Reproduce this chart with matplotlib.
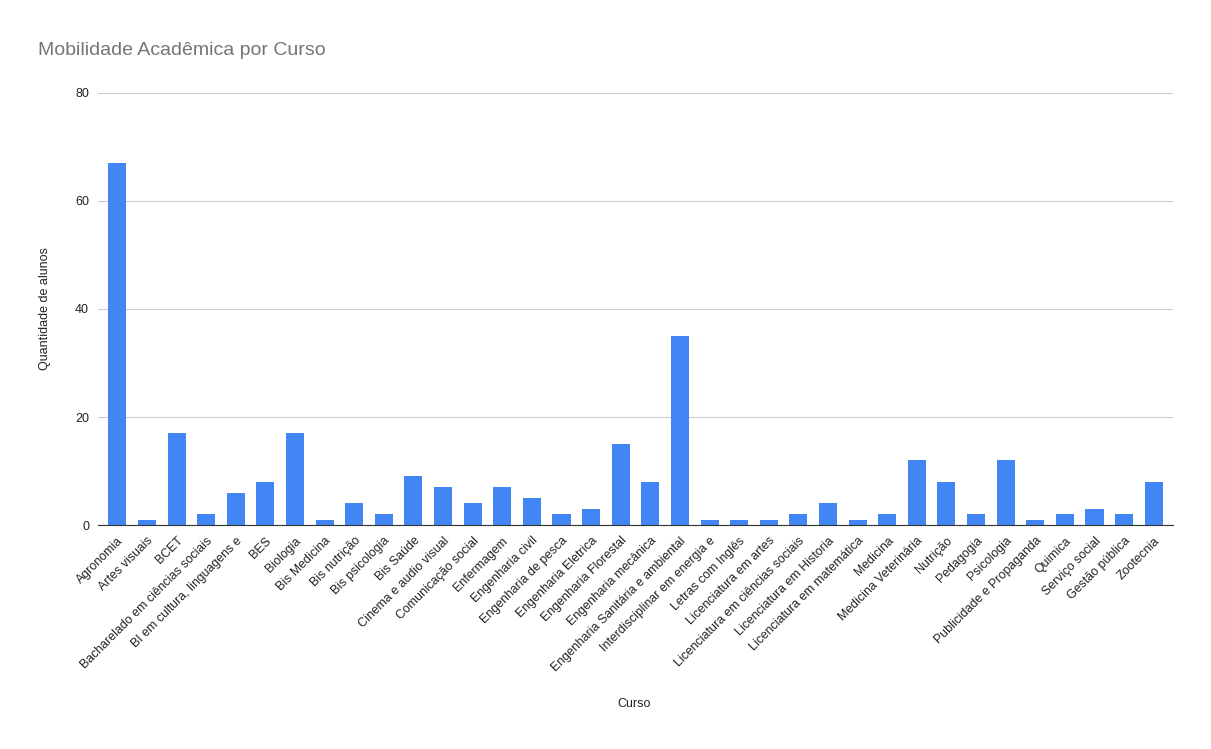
import matplotlib
matplotlib.use("Agg")
import matplotlib.pyplot as plt

cursos = ["Agronomia", "Artes visuais", "BCET", "Bacharelado em ciências sociais",
          "BI em cultura, linguagens e", "BES", "Biologia", "Bis Medicina", "Bis nutrição",
          "Bis psicologia", "Bis Saúde", "Cinema e audio visual", "Comunicação social",
          "Enfermagem", "Engenharia civil", "Engenharia de pesca", "Engenharia Eletrica",
          "Engenharia Florestal", "Engenharia mecânica", "Engenharia Sanitária e ambiental",
          "Interdisciplinar em energia e", "Letras com Inglês", "Licenciatura em artes",
          "Licenciatura em ciências sociais", "Licenciatura em Historia",
          "Licenciatura em matemática", "Medicina", "Medicina Veterinária", "Nutrição",
          "Pedagogia", "Psicologia", "Publicidade e Propaganda", "Quimica", "Serviço social",
          "Gestão pública", "Zootecnia"]
alunos = [67, 1, 17, 2, 6, 8, 17, 1, 4, 2, 9, 7, 4, 7, 5, 2, 3, 15, 8, 35,
          1, 1, 1, 2, 4, 1, 2, 12, 8, 2, 12, 1, 2, 3, 2, 8]
yticks = [0, 20, 40, 60, 80]

plt.rcParams['font.family'] = ['Liberation Sans', 'DejaVu Sans']

fig = plt.figure(figsize=(12.11, 7.49), dpi=100)
ax = fig.add_axes([0.081, 0.299, 0.8876, 0.577])
x = range(len(cursos))
ax.bar(x, alunos, width=0.61, color="#4285F4", zorder=3)
ax.set_xlim(-0.65, len(cursos) - 0.35)
ax.set_ylim(0, 80)
ax.set_yticks(yticks)
ax.set_yticklabels([str(v) for v in yticks], fontsize=9, color="#222222")
ax.set_xticks(list(x))
ax.set_xticklabels(cursos, rotation=45, ha="right", rotation_mode="anchor",
                   fontsize=8.9, color="#222222")
ax.tick_params(axis="both", length=0)
ax.tick_params(axis="y", pad=6.5)
ax.tick_params(axis="x", pad=7)
ax.grid(axis="y", color="#cccccc", linewidth=0.8, zorder=0)
for s in ["top", "right", "left"]:
    ax.spines[s].set_visible(False)
ax.spines["bottom"].set_color("#333333")
ax.spines["bottom"].set_zorder(4)

ax.set_ylabel("Quantidade de alunos", fontsize=9, color="#222222")
ax.yaxis.set_label_coords(-0.044, 0.5)
fig.text(0.5235, 0.06, "Curso", fontsize=9, color="#222222", ha="center", va="center")
fig.text(0.031, 0.933, "Mobilidade Acadêmica por Curso", fontsize=14, color="#757575",
         ha="left", va="center")

fig.savefig("out.png", dpi=100, facecolor="white")
